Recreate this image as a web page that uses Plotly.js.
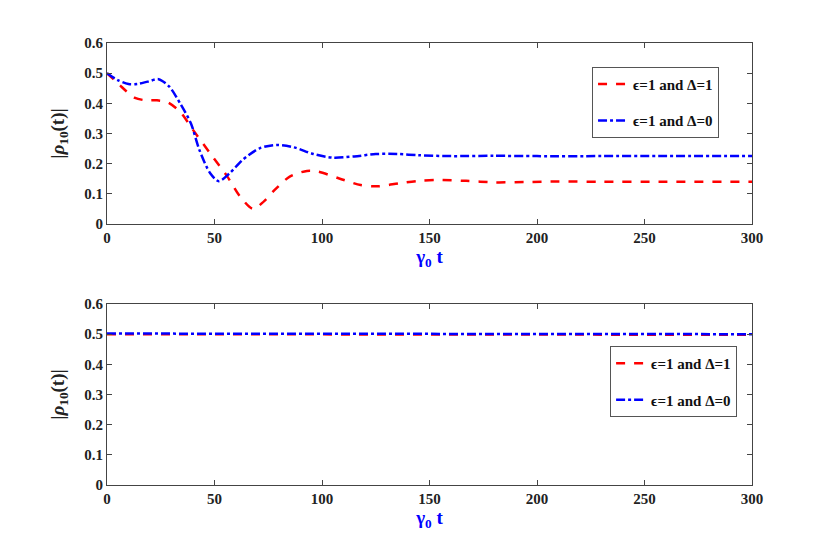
<!DOCTYPE html>
<html>
<head>
<meta charset="utf-8">
<script src="https://cdn.plot.ly/plotly-3.0.1.min.js"></script>
<style>
  body { margin: 0; background: #fff; }
  #plot { width: 830px; height: 551px; }
</style>
</head>
<body>
<div id="plot"></div>
<script>

// upper panel
var tRedTop = [0, 3, 6, 9, 13, 18, 23, 28, 34, 40, 48, 56, 62, 68, 73, 78, 85, 93, 98, 108, 118, 126, 136, 145, 153, 167, 180, 194, 210, 230, 260, 300];
var redTop = [0.5, 0.48, 0.46, 0.44, 0.418, 0.41, 0.41, 0.404, 0.372, 0.312, 0.234, 0.157, 0.09, 0.05, 0.075, 0.113, 0.157, 0.176, 0.174, 0.151, 0.129, 0.125, 0.135, 0.143, 0.146, 0.143, 0.138, 0.139, 0.141, 0.14, 0.14, 0.14];

var tBlueTop = [0, 5, 10, 14, 19, 24, 29, 34, 39, 43, 48, 52, 57, 63, 71, 79, 87, 96, 105, 115, 125, 135, 145, 160, 180, 200, 230, 260, 300];
var blueTop = [0.5, 0.477, 0.464, 0.464, 0.472, 0.48, 0.455, 0.40, 0.334, 0.245, 0.168, 0.142, 0.168, 0.212, 0.251, 0.262, 0.254, 0.232, 0.22, 0.224, 0.232, 0.232, 0.228, 0.225, 0.226, 0.225, 0.225, 0.225, 0.225];

// lower panel
var tBottom = [0, 50, 100, 150, 200, 250, 280, 300];
var redBottom = [0.5, 0.5, 0.5, 0.5, 0.5, 0.5, 0.499, 0.498];
var blueBottom = [0.502, 0.502, 0.502, 0.502, 0.502, 0.502, 0.501, 0.5];

var name1 = 'ϵ=1 and Δ=1';
var name2 = 'ϵ=1 and Δ=0';

var FAM = 'Liberation Serif';

var traces = [{
	x: tRedTop, y: redTop, name: name1, legendgroup: 'a',
	mode: 'lines', line: {color: '#ff0000', width: 2.5, dash: 'dash', shape: 'spline', smoothing: 0.8},
	xaxis: 'x', yaxis: 'y', legend: 'legend'
},{
	x: tBlueTop, y: blueTop, name: name2, legendgroup: 'b',
	mode: 'lines', line: {color: '#0000ff', width: 2.5, dash: 'dashdot', shape: 'spline', smoothing: 0.8},
	xaxis: 'x', yaxis: 'y', legend: 'legend'
},{
	x: tBottom, y: redBottom, name: name1, legendgroup: 'c',
	mode: 'lines', line: {color: '#ff0000', width: 2.5, dash: 'dash'},
	xaxis: 'x2', yaxis: 'y2', legend: 'legend2'
},{
	x: tBottom, y: blueBottom, name: name2, legendgroup: 'd',
	mode: 'lines', line: {color: '#0000ff', width: 2.5, dash: 'dashdot'},
	xaxis: 'x2', yaxis: 'y2', legend: 'legend2'
}];

function xAxis(anchor) {
	return {
		anchor: anchor,
		range: [0, 300],
		dtick: 50,
		ticks: 'inside', ticklen: 5, tickcolor: '#444',
		showline: true, linecolor: '#444', linewidth: 1, mirror: 'ticks',
		showgrid: false, zeroline: false,
		tickfont: {family: FAM, size: 15, color: '#222', weight: 'bold'},
		title: {text: 'γ<sub>0</sub> t', font: {family: FAM, size: 19, color: '#0000ff', weight: 'bold'}, standoff: 4}
	};
}

function yAxis(anchor, domain) {
	return {
		anchor: anchor,
		domain: domain,
		range: [0, 0.6],
		dtick: 0.1,
		tickformat: '.1~f',
		ticks: 'inside', ticklen: 5, tickcolor: '#444',
		showline: true, linecolor: '#444', linewidth: 1, mirror: 'ticks',
		showgrid: false, zeroline: false,
		tickfont: {family: FAM, size: 15, color: '#222', weight: 'bold'},
		title: {text: '|<i>ρ</i><sub>10</sub>(t)|', font: {family: FAM, size: 19, color: '#222', weight: 'bold'}, standoff: 14}
	};
}

function legendBox(x, y) {
	return {
		x: x, y: y, xanchor: 'left', yanchor: 'top',
		bgcolor: '#ffffff', bordercolor: '#555', borderwidth: 1,
		font: {family: FAM, size: 15, color: '#111', weight: 'bold'},
		tracegroupgap: 14
	};
}

var layout = {
	width: 830, height: 551,
	font: {family: FAM, size: 15, color: '#222', weight: 'bold'},
	margin: {l: 107, r: 78, t: 43, b: 66},
	paper_bgcolor: '#ffffff', plot_bgcolor: '#ffffff',
	xaxis: xAxis('y'),
	yaxis: yAxis('x', [0.5905, 1]),
	xaxis2: xAxis('y2'),
	yaxis2: yAxis('x2', [0, 0.4095]),
	showlegend: true,
	legend: legendBox(0.752, 0.946),
	legend2: legendBox(0.78, 0.3145)
};

Plotly.newPlot('plot', traces, layout, {displayModeBar: false, staticPlot: true});
</script>
</body>
</html>
